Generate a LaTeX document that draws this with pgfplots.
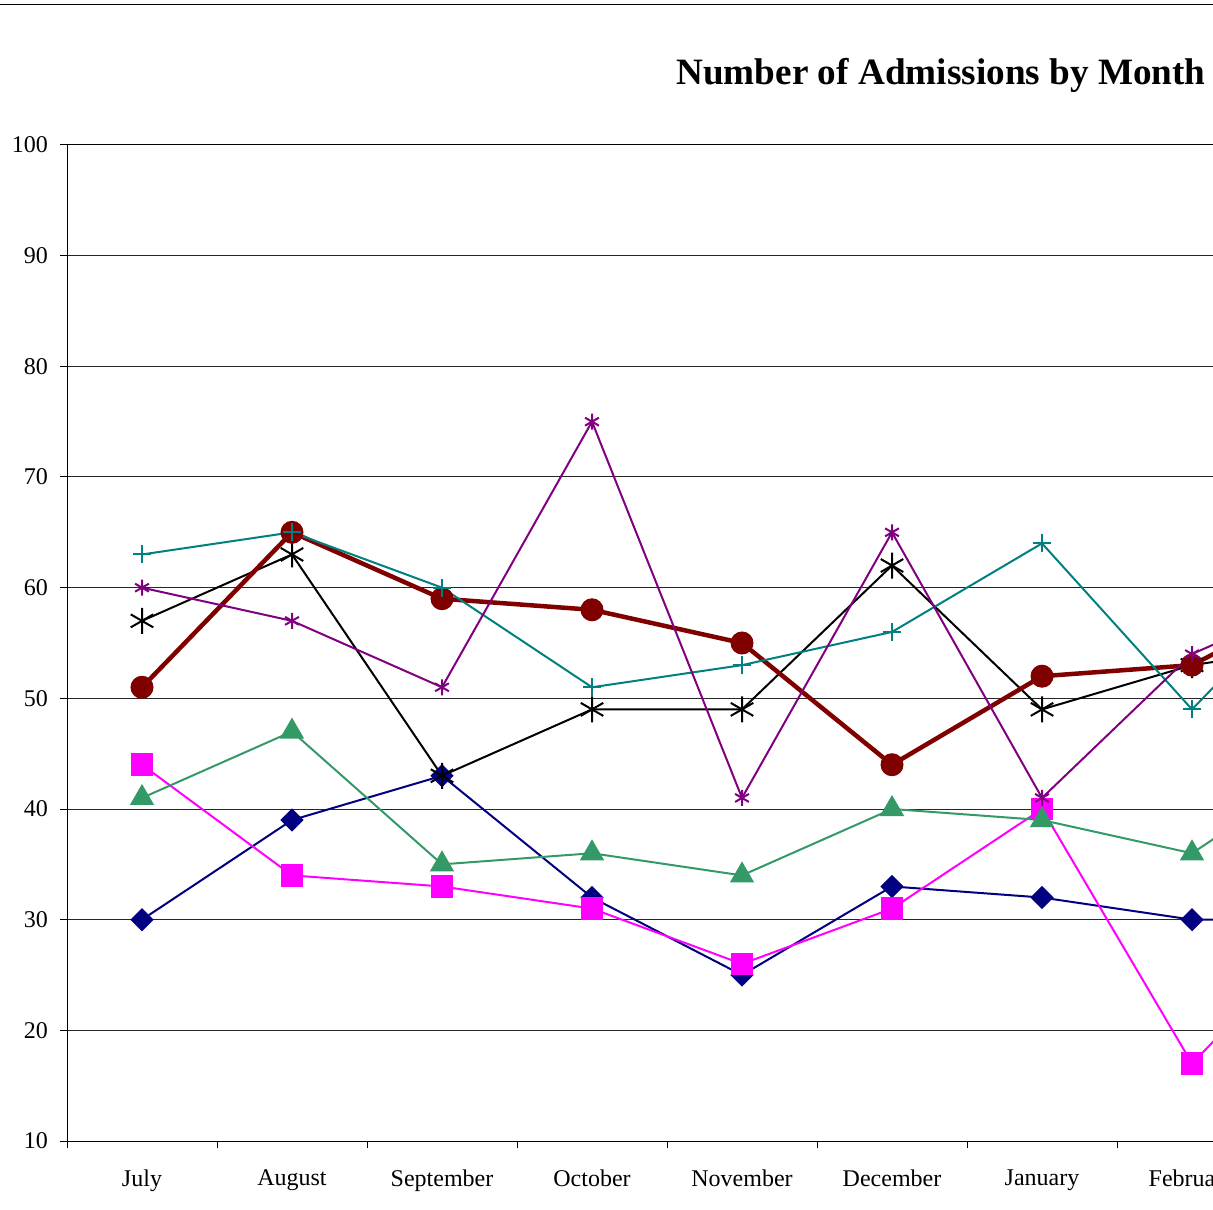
\documentclass[border=0pt]{standalone}
\usepackage{fontspec}
\setmainfont{Liberation Serif}
\usepackage{pgfplots}
\pgfplotsset{compat=1.18}
\definecolor{cnavy}{HTML}{000080}
\definecolor{cmag}{HTML}{FF00FF}
\definecolor{cgreen}{HTML}{339966}
\definecolor{cteal}{HTML}{008080}
\definecolor{cpurple}{HTML}{800080}
\definecolor{cred}{HTML}{800000}
\begin{document}
\begin{tikzpicture}
\useasboundingbox (0,0) rectangle (606.5pt,604.5pt);
\clip (0,0) rectangle (606.5pt,604.5pt);
\draw[line width=0.5pt] (0,602pt) -- (606.5pt,602pt);
\node[anchor=base, font=\fontsize{18.6}{22}\selectfont\bfseries] at (470.5pt,562pt) {Number of Admissions by Month};
\begin{axis}[
  at={(33.5pt,34pt)}, anchor=south west,
  scale only axis, width=675pt, height=498pt,
  xmin=-0.5, xmax=8.5, ymin=10, ymax=100,
  ytick={10,20,...,100},
  xtick={-0.5,0.5,...,8.5},
  x tick label as interval,
  xticklabels={July,August,September,October,November,December,January,February,March},
  tick align=outside, major tick length=3.5pt,
  xtick pos=bottom, ytick pos=left,
  tick style={black, line width=0.5pt},
  axis line style={black, line width=0.5pt},
  ymajorgrids, grid style={black!85, line width=0.5pt},
  ticklabel style={font=\fontsize{12}{14}\selectfont},
  xticklabel style={yshift=-7.5pt},
  yticklabel style={xshift=-2.5pt},
  /pgf/number format/assume math mode=true,
  every axis plot/.append style={line width=1pt},
]
\addplot[cnavy, mark=square*, mark size=3.6pt, mark options={rotate=45, solid}] coordinates {(0,30)(1,39)(2,43)(3,32)(4,25)(5,33)(6,32)(7,30)(8,30)};
\addplot[cmag, mark=square*, mark size=5.2pt] coordinates {(0,44)(1,34)(2,33)(3,31)(4,26)(5,31)(6,40)(7,17)(8,31)};
\addplot[cgreen, mark=triangle*, mark size=6pt] coordinates {(0,41)(1,47)(2,35)(3,36)(4,34)(5,40)(6,39)(7,36)(8,45)};
\addplot[black, mark=asterisk, mark size=6.5pt] coordinates {(0,57)(1,63)(2,43)(3,49)(4,49)(5,62)(6,49)(7,53)(8,55)};
\addplot[cred, line width=2.25pt, mark=*, mark size=5.5pt, mark options={line width=0.5pt}] coordinates {(0,51)(1,65)(2,59)(3,58)(4,55)(5,44)(6,52)(7,53)(8,60)};
\addplot[cteal, mark=+, mark size=4.5pt] coordinates {(0,63)(1,65)(2,60)(3,51)(4,53)(5,56)(6,64)(7,49)(8,63)};
\addplot[cpurple, mark=asterisk, mark size=4pt] coordinates {(0,60)(1,57)(2,51)(3,75)(4,41)(5,65)(6,41)(7,54)(8,60)};
\end{axis}
\end{tikzpicture}
\end{document}
